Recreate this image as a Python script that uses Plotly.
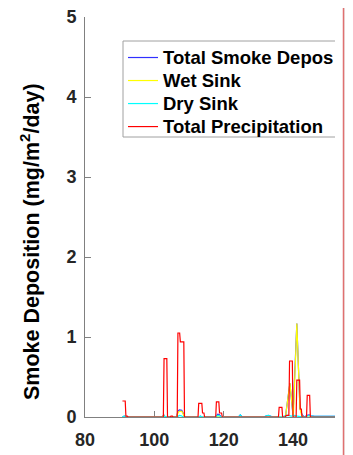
import plotly.graph_objects as go

# ---------------- data ----------------
# day of year breakpoints and values (mg/m^2/day)
total_days = [90.8, 91.3, 92.2, 102.3, 102.7, 103.1, 106.4, 106.8, 107.2, 107.9, 108.3, 108.7,
              112.8, 113.3, 113.8, 117.6, 118.3, 118.7, 119.3, 124.3, 124.8, 125.3, 131.5,
              132.8, 134.2, 137.8, 139.1, 140.0, 141.1, 142.0, 142.6, 143.2, 144.1, 144.6,
              145.2, 146.2, 152.5]
total_vals = [0, 0.012, 0, 0, 0.03, 0, 0, 0.07, 0.09, 0.085, 0.05, 0,
              0, 0.01, 0, 0, 0.035, 0.03, 0, 0, 0.025, 0, 0,
              0.02, 0, 0.0, 0.42, 0.02, 1.17, 0.11, 0.03, 0, 0.02, 0.025,
              0.015, 0.008, 0.008]

wet_days = [90.8, 102.3, 102.7, 103.1, 106.4, 106.8, 107.2, 107.9, 108.3, 108.7,
            118.2, 118.6, 119.0, 137.8, 139.1, 139.9, 140.1, 141.1, 142.0, 142.5, 143.0, 152.5]
wet_vals = [0, 0, 0.02, 0, 0, 0.05, 0.07, 0.07, 0.04, 0,
            0, 0.02, 0, 0, 0.42, 0.02, 0, 1.17, 0.1, 0.02, 0, 0]

dry_days = [90.8, 91.3, 91.7, 92.2, 102.5, 103.0, 103.5, 106.6, 107.2, 107.8, 108.4,
            112.8, 113.3, 113.8, 117.5, 118.2, 118.8, 119.4, 124.3, 124.8, 125.3,
            131.5, 132.3, 133.0, 133.6, 134.2, 137.0, 137.6, 138.5, 139.5, 140.5, 141.2,
            143.0, 144.2, 144.8, 145.5, 146.2, 152.5]
dry_vals = [0, 0.012, 0.01, 0, 0, 0.01, 0, 0, 0.02, 0.015, 0,
            0, 0.01, 0, 0, 0.02, 0.015, 0, 0, 0.025, 0,
            0, 0.015, 0.02, 0.01, 0, 0, 0.015, 0.02, 0.01, 0.02, 0.01,
            0, 0.015, 0.02, 0.01, 0.008, 0.008]

precip_days = [90.8, 91.6, 91.8, 92.2, 92.4, 102.6, 102.8, 103.6, 103.8, 104.6, 104.8, 105.2,
               105.4, 106.6, 106.8, 107.3, 107.5, 108.5, 108.7, 112.6, 112.8, 113.7, 113.9,
               114.3, 114.5, 117.7, 117.9, 118.6, 118.8, 119.4, 119.6, 135.8, 136.0, 136.8,
               137.0, 137.8, 138.0, 138.8, 139.0, 139.8, 140.0, 140.9, 141.1, 141.9, 142.1,
               142.4, 142.6, 143.9, 144.1, 144.8, 145.0, 152.5]
precip_vals = [0.20, 0.20, 0.01, 0.01, 0, 0, 0.73, 0.73, 0, 0, 0.01, 0.01,
               0, 0, 1.05, 1.05, 0.94, 0.94, 0, 0, 0.17, 0.17, 0.05,
               0.05, 0, 0, 0.19, 0.19, 0.05, 0.05, 0, 0, 0.12, 0.12,
               0, 0, 0.02, 0.02, 0.70, 0.70, 0, 0, 0.46, 0.46, 0.10,
               0.10, 0, 0, 0.27, 0.27, 0, 0]

series_names = ["Total Smoke Depos", "Wet Sink", "Dry Sink", "Total Precipitation"]
x_ticks = [80, 100, 120, 140, 160]
y_ticks = [0, 1, 2, 3, 4, 5]

# ---------------- figure ----------------
OFF = 8                      # default page body margin
W, H = 353 - OFF, 455 - OFF
ML, MT = 85 - OFF, 17 - OFF
PR, PB = 335 - OFF, 417 - OFF
MR, MB = W - PR, H - PB
PW, PH = PR - ML, PB - MT

def px(xp):  # window pixel -> paper x
    return (xp - OFF - ML) / PW

def py(yp):  # window pixel -> paper y
    return (PB - (yp - OFF)) / PH

TXT = "#262626"
FONT = "Liberation Sans, Arial, Helvetica, sans-serif"

fig = go.Figure()
colors = ["#3030ff", "#ffff00", "#00ffff", "#ff0000"]
datasets = [(total_days, total_vals), (wet_days, wet_vals), (dry_days, dry_vals),
            (precip_days, precip_vals)]
for (xs, ys), name, c in zip(datasets, series_names, colors):
    fig.add_trace(go.Scatter(
        x=xs, y=ys, mode="lines", name=f'<span style="font-size:18.5px">{name}</span>',
        line=dict(color=c, width=1.2)))

axis_common = dict(
    showgrid=False, zeroline=False, showline=True, linecolor="#808080", linewidth=1,
    ticks="inside", ticklen=6, tickcolor="#808080", tickwidth=1,
    tickfont=dict(family=FONT, size=18, color=TXT, weight="bold"),
    layer="below traces", ticklabeloverflow="allow",
)

fig.update_xaxes(range=[80, 80 + PW / 3.467], tickvals=x_ticks, ticklabelstandoff=6,
                 **axis_common)
fig.update_yaxes(range=[0, 5], tickvals=y_ticks, ticklabelstandoff=4, **axis_common)

shapes = [
    # legend box (clipped at right by the crop)
    dict(type="line", xref="paper", yref="paper", x0=px(123), x1=1, y0=py(41), y1=py(41),
         line=dict(color="#a0a0a0", width=1)),
    dict(type="line", xref="paper", yref="paper", x0=px(123), x1=px(123), y0=py(41), y1=py(137),
         line=dict(color="#a0a0a0", width=1)),
    dict(type="line", xref="paper", yref="paper", x0=px(123), x1=1, y0=py(137), y1=py(137),
         line=dict(color="#a0a0a0", width=1)),
    # grey strip of the window and its divider
    dict(type="rect", xref="paper", yref="paper", x0=px(344), x1=px(353), y0=py(0), y1=py(460),
         fillcolor="#ececec", line=dict(width=0), layer="above"),
    dict(type="line", xref="paper", yref="paper", x0=px(343.5), x1=px(343.5), y0=py(0), y1=py(460),
         line=dict(color="#e07070", width=1.5), layer="above"),
]

fig.update_layout(
    width=W, height=H,
    margin=dict(l=ML, r=MR, t=MT, b=MB, autoexpand=False),
    paper_bgcolor="white", plot_bgcolor="white",
    showlegend=True,
    legend=dict(x=px(123), y=py(41), xanchor="left", yanchor="top",
                bgcolor="rgba(0,0,0,0)", borderwidth=0,
                font=dict(family=FONT, size=15.4, color="#000000", weight="bold"),
                itemwidth=30),
    shapes=shapes,
    annotations=[dict(
        text="Smoke Deposition (mg/m<sup>2</sup>/day)", xref="paper", yref="paper",
        x=px(30), y=py(242), xanchor="center", yanchor="middle", textangle=-90,
        showarrow=False, font=dict(family=FONT, size=21.5, color="#000000", weight="bold"))],
)

fig.write_html("out.html")
